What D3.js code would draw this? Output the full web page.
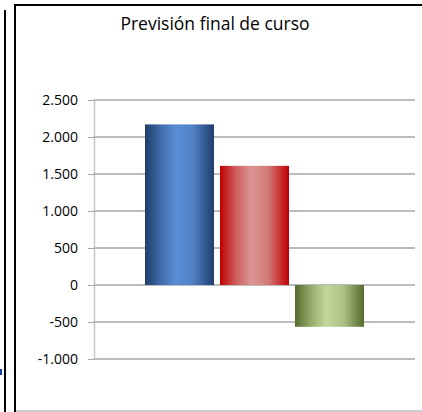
<!DOCTYPE html>
<html>
<head>
<meta charset="utf-8">
<script src="https://cdn.jsdelivr.net/npm/d3@7"></script>
<style>
  body { margin: 0; background: #fff; }
  text { font-family: "Open Sans", "Noto Sans", sans-serif; fill: #000; }
</style>
</head>
<body>
<div id="chart"></div>
<script>
const WIDTH = 422;
const HEIGHT = 412;

// Data
const title = "Previsión final de curso";
const series = ["A", "B", "C"];
const values = [2170, 1610, -565];
const yTicks = [-1000, -500, 0, 500, 1000, 1500, 2000, 2500];
const gradients = [
  ["#1f3d6b", "#3f6aa8", "#5a8ed6", "#4f80c4", "#1f3d6b"],
  ["#c00000", "#d05a5a", "#d99694", "#d27a78", "#c00000"],
  ["#536b2c", "#93a868", "#c3d69b", "#adc184", "#536b2c"],
];

const fmt = d => d3.format(",")(d).replace(/,/g, ".").replace("−", "-");

const svg = d3.select("#chart")
  .append("svg")
  .attr("width", WIDTH)
  .attr("height", HEIGHT);

// outer frame lines
svg.append("line")
  .attr("x1", 5).attr("x2", 5).attr("y1", 10).attr("y2", HEIGHT)
  .attr("stroke", "#000").attr("stroke-width", 2);
svg.append("rect")
  .attr("x", 0).attr("y", 369).attr("width", 2).attr("height", 6)
  .attr("fill", "#1f3fa0");

// chart frame
svg.append("line")
  .attr("x1", 15).attr("x2", 15).attr("y1", 4).attr("y2", HEIGHT)
  .attr("stroke", "#000").attr("stroke-width", 2);
svg.append("line")
  .attr("x1", 14).attr("x2", WIDTH).attr("y1", 5).attr("y2", 5)
  .attr("stroke", "#000").attr("stroke-width", 2);
svg.append("line")
  .attr("x1", 16).attr("x2", WIDTH).attr("y1", 411).attr("y2", 411)
  .attr("stroke", "#999").attr("stroke-width", 1);

const plot = { left: 94, right: 415, top: 100, bottom: 359 };

const y = d3.scaleLinear().domain([-1000, 2500]).range([plot.bottom, plot.top]);
const x = d3.scaleBand().domain(series)
  .range([plot.left, plot.right])
  .paddingInner(0.08)
  .paddingOuter(0.68);

// gradients
const defs = svg.append("defs");
const offsets = ["0%", "22%", "45%", "70%", "100%"];
gradients.forEach((c, i) => {
  const lg = defs.append("linearGradient")
    .attr("id", "grad" + i)
    .attr("x1", "0%").attr("x2", "100%").attr("y1", "0%").attr("y2", "0%");
  c.forEach((col, j) => {
    lg.append("stop").attr("offset", offsets[j]).attr("stop-color", col);
  });
});

// gridlines + axis
const yAxis = d3.axisLeft(y)
  .tickValues(yTicks)
  .tickSize(6)
  .tickFormat(fmt);

const axisG = svg.append("g")
  .attr("transform", `translate(${plot.left},0)`)
  .call(yAxis);
axisG.select(".domain").attr("stroke", "#c8c8c8").attr("stroke-width", 1.5)
  .attr("d", `M0.5,${y(2500)}V${y(-1000)}`);
axisG.selectAll(".tick line").attr("stroke", "#a6a6a6");
axisG.selectAll(".tick text")
  .attr("x", -16)
  .attr("font-size", 14)
  .style("font-family", "'Open Sans', sans-serif");

svg.append("g")
  .selectAll("line")
  .data(yTicks)
  .join("line")
  .attr("x1", plot.left)
  .attr("x2", plot.right)
  .attr("y1", d => y(d))
  .attr("y2", d => y(d))
  .attr("stroke", "#a6a6a6")
  .attr("stroke-width", 1.5);

// bars
svg.append("g")
  .selectAll("rect")
  .data(values)
  .join("rect")
  .attr("x", (d, i) => x(series[i]))
  .attr("width", x.bandwidth())
  .attr("y", d => y(Math.max(0, d)))
  .attr("height", d => Math.abs(y(d) - y(0)))
  .attr("fill", (d, i) => `url(#grad${i})`);

// title
svg.append("text")
  .attr("x", 215)
  .attr("y", 30)
  .attr("text-anchor", "middle")
  .attr("font-size", 17.5)
  .text(title);
</script>
</body>
</html>
